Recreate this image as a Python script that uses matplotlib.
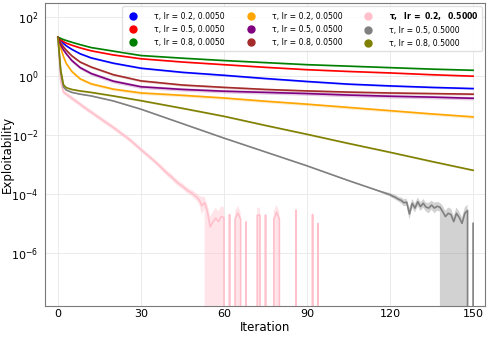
import matplotlib.pyplot as plt
import numpy as np
from matplotlib.lines import Line2D

iters = [0, 1, 2, 3, 5, 8, 12, 20, 30, 45, 60, 75, 90, 105, 120, 135, 150]

# log10(exploitability) per run, label "tau, lr"
blue_log = [1.31, 1.20, 1.10, 1.02, 0.90, 0.75, 0.61, 0.43, 0.26, 0.12, 0.02, -0.09, -0.19, -0.28, -0.34, -0.39, -0.43]
red_log = [1.31, 1.22, 1.16, 1.11, 1.04, 0.95, 0.85, 0.71, 0.58, 0.47, 0.38, 0.29, 0.21, 0.15, 0.10, 0.04, -0.01]
green_log = [1.31, 1.27, 1.23, 1.20, 1.14, 1.06, 0.96, 0.84, 0.69, 0.60, 0.52, 0.45, 0.38, 0.33, 0.28, 0.23, 0.19]
orange_log = [1.31, 0.95, 0.65, 0.42, 0.15, -0.10, -0.27, -0.45, -0.58, -0.66, -0.75, -0.86, -0.96, -1.07, -1.18, -1.29, -1.39]
purple_log = [1.31, 1.05, 0.88, 0.75, 0.52, 0.28, 0.08, -0.18, -0.37, -0.46, -0.52, -0.56, -0.60, -0.65, -0.69, -0.72, -0.76]
brown_log = [1.31, 1.12, 0.98, 0.87, 0.68, 0.47, 0.30, 0.04, -0.17, -0.31, -0.39, -0.46, -0.51, -0.55, -0.58, -0.60, -0.62]
olive_log = [1.31, 0.20, -0.30, -0.40, -0.46, -0.51, -0.56, -0.68, -0.84, -1.10, -1.37, -1.68, -1.98, -2.29, -2.59, -2.90, -3.20]

# band half-width in decades for the smooth runs
smooth_spread = {"blue": 0.03, "red": 0.02, "green": 0.02, "orange": 0.05, "purple": 0.06,
                 "brown": 0.04, "olive": 0.03}

# tau 0.5, lr 0.5 (gets noisy at the end)
gray_x = [0, 1, 2, 3, 5, 8, 12, 20, 30, 45, 60, 75, 90, 105, 115] + list(range(120, 151))
gray_log = [1.31, 0.10, -0.38, -0.48, -0.56, -0.62, -0.68, -0.85, -1.13, -1.62, -2.11, -2.58, -3.05, -3.55, -3.87,
            -4.03, -4.08, -4.12, -4.18, -4.22, -4.30, -4.28, -4.68, -4.32, -4.48, -4.27, -4.43, -4.32, -4.45, -4.48,
            -4.38, -4.48, -4.42, -4.45, -4.60, -4.77, -4.66, -4.70, -4.94, -4.66, -4.80, -5.00, -4.66, -4.56, None, -5.00]
gray_spread = [0.02] * 15 + [0.06, 0.07, 0.08, 0.08, 0.10, 0.12, 0.12, 0.20, 0.15, 0.15, 0.15, 0.15, 0.15, 0.15,
                             0.18, 0.15, 0.18, 0.15, 0.15, 0.20, 0.20, 0.20, 0.20, 0.20, 0.20, 0.20, 0.20, 0.20,
                             0.20, 0.0, 0.15]
gray_lo_zero = [139, 140, 141, 143, 144, 145, 146, 147, 148, 150]

# tau 0.2, lr 0.5 (hits zero after ~60)
pink_x = [0, 1, 2, 10, 20, 26, 30, 35] + list(range(40, 61))
pink_log = [1.31, -0.20, -0.55, -1.10, -1.75, -2.17, -2.50, -2.90,
            -3.35, -3.42, -3.52, -3.60, -3.68, -3.74, -3.82, -3.90, -3.95, -4.02, -4.10, -4.20, -4.40, -4.30,
            -4.60, -5.12, -4.95, -4.82, -4.94, -4.77, -4.80]
pink_spread = [0.03, 0.08, 0.08, 0.08, 0.08, 0.08, 0.08, 0.08,
               0.10, 0.10, 0.10, 0.10, 0.10, 0.10, 0.10, 0.10, 0.10, 0.12, 0.12, 0.15, 0.30, 0.20,
               0.25, 0.35, 0.35, 0.35, 0.35, 0.35, 0.35]
pink_lo_zero = [54, 55, 56, 57, 58, 59, 60]
pink_spikes = {62: -4.70, 64: -4.85, 65: -4.65, 66: -4.85, 68: -4.95, 72: -4.72, 73: -4.72, 75: -4.72,
               78: -4.85, 79: -4.62, 80: -4.85, 86: -4.55, 92: -4.70, 94: -5.00}

legend_entries = [("blue", 0.2, 0.005), ("red", 0.5, 0.005), ("green", 0.8, 0.005),
                  ("orange", 0.2, 0.05), ("purple", 0.5, 0.05), ("brown", 0.8, 0.05),
                  ("pink", 0.2, 0.5), ("gray", 0.5, 0.5), ("olive", 0.8, 0.5)]
best_entry = 6

fig = plt.figure(figsize=(4.89, 3.37), dpi=100)
ax = fig.add_axes([45.5 / 489, 1 - 305.7 / 337, 439.5 / 489, 302.4 / 337])
ax.set_yscale("log")

smooth = {"blue": blue_log, "red": red_log, "green": green_log, "orange": orange_log,
          "purple": purple_log, "brown": brown_log, "olive": olive_log}

# pink run
px = list(pink_x)
pv = [10.0 ** v for v in pink_log]
plo = [10.0 ** (v - s) for v, s in zip(pink_log, pink_spread)]
phi = [10.0 ** (v + s) for v, s in zip(pink_log, pink_spread)]
for i, it in enumerate(px):
    if it in pink_lo_zero:
        plo[i] = 0.0
for it in range(61, 151):
    px.append(it)
    if it in pink_spikes:
        pv.append(10.0 ** pink_spikes[it])
        phi.append(10.0 ** (pink_spikes[it] + 0.25))
    else:
        pv.append(0.0)
        phi.append(0.0)
    plo.append(0.0)
ax.fill_between(px, plo, phi, color="pink", alpha=0.4, lw=0)
ax.plot(px, pv, color="pink", lw=1.2)

# gray run
gv = [0.0 if v is None else 10.0 ** v for v in gray_log]
glo = [0.0 if v is None else 10.0 ** (v - s) for v, s in zip(gray_log, gray_spread)]
ghi = [0.0 if v is None else 10.0 ** (v + s) for v, s in zip(gray_log, gray_spread)]
for i, it in enumerate(gray_x):
    if it in gray_lo_zero:
        glo[i] = 0.0
ax.fill_between(gray_x, glo, ghi, color="gray", alpha=0.35, lw=0)
ax.plot(gray_x, gv, color="gray", lw=1.2)

for name, vals in smooth.items():
    v = np.array(vals)
    s = smooth_spread[name]
    ax.fill_between(iters, 10 ** (v - s), 10 ** (v + s), color=name, alpha=0.2, lw=0)
    ax.plot(iters, 10 ** v, color=name, lw=1.2)

ax.set_xlim(-4.5, 154.3)
ax.set_ylim(10 ** -7.79, 10 ** 2.46)
ax.set_xticks([0, 30, 60, 90, 120, 150])
ax.set_yticks([1e2, 1e0, 1e-2, 1e-4, 1e-6])
ax.minorticks_off()
ax.tick_params(length=0, labelsize=8)
ax.tick_params(axis="x", pad=2.6)
ax.tick_params(axis="y", pad=5)
ax.grid(color="#e8e8e8", lw=0.6)
ax.set_axisbelow(True)
for sp in ax.spines.values():
    sp.set_color("#7a7a7a")
ax.set_xlabel("Iteration", fontsize=8.5, labelpad=1)
ax.set_ylabel("Exploitability", fontsize=8.5)
ax.yaxis.set_label_coords(-0.073, 0.5)

handles = [Line2D([], [], marker="o", ls="", color=c, markersize=5) for c, _, _ in legend_entries]
labels = []
for i, (_, t, lr) in enumerate(legend_entries):
    if i == best_entry:
        labels.append(r"$\mathbf{\tau,\ \ lr\ =\ %s,\ \ %.4f}$" % (t, lr))
    else:
        labels.append("τ, lr = {}, {:.4f}".format(t, lr))
leg = ax.legend(handles, labels, loc="upper right", ncol=3, fontsize=5.6, handletextpad=1.7,
                columnspacing=2.3, borderaxespad=0.4, labelspacing=0.55, framealpha=0.9, edgecolor="#dddddd")

fig.savefig("out.png", dpi=100)
